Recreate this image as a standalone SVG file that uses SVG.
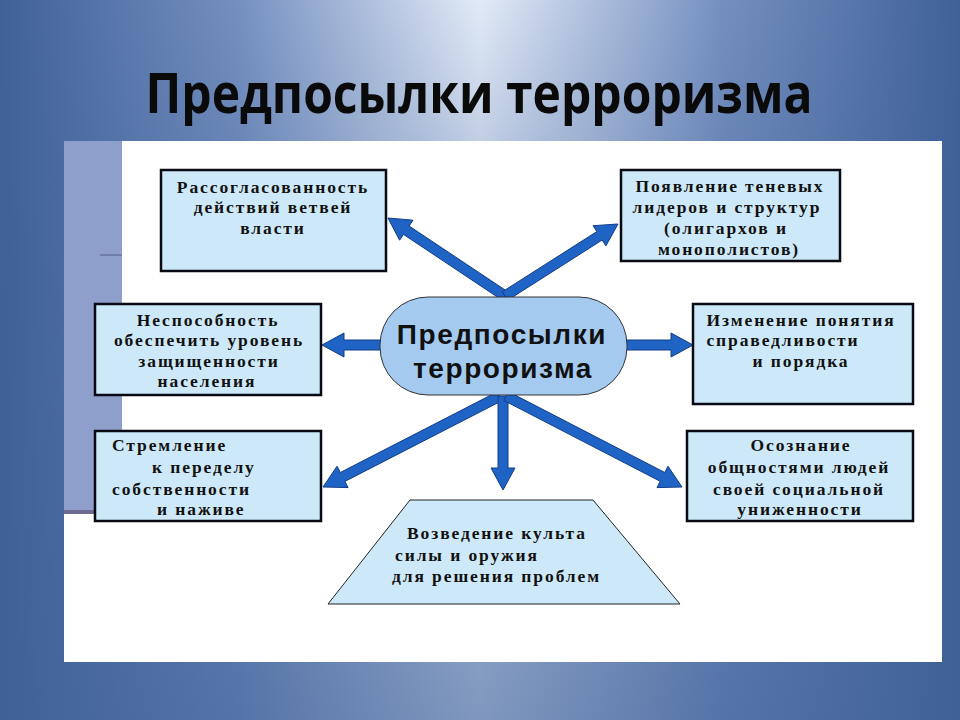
<svg xmlns="http://www.w3.org/2000/svg" width="960" height="720" viewBox="0 0 960 720">
<defs>
<linearGradient id="bgH" x1="0" y1="0" x2="1" y2="0">
<stop offset="0" stop-color="#3f6198"/>
<stop offset="0.25" stop-color="#7590c0"/>
<stop offset="0.5" stop-color="#e2eaf7"/>
<stop offset="0.75" stop-color="#7590c0"/>
<stop offset="1" stop-color="#3f6198"/>
</linearGradient>
<linearGradient id="bgV" x1="0" y1="0" x2="0" y2="1">
<stop offset="0" stop-color="#3f6198" stop-opacity="0"/>
<stop offset="0.2" stop-color="#3f6198" stop-opacity="0.2"/>
<stop offset="1" stop-color="#3f6198" stop-opacity="0.6"/>
</linearGradient>
<style>
.box{fill:#cde9f9;stroke:#0a0a14;stroke-width:2.5}
.t{font-family:"Liberation Serif","DejaVu Serif",serif;font-weight:bold;font-size:17.5px;letter-spacing:1.9px;fill:#111}
.c{text-anchor:middle}
.arr{fill:#1f63c4;stroke:#123e88;stroke-width:1;stroke-linejoin:miter}
.ctr{font-family:"Liberation Sans",Arial,sans-serif;font-weight:bold;font-size:28px;letter-spacing:1.6px;fill:#111;text-anchor:middle}
</style>
</defs>
<rect x="0" y="0" width="960" height="720" fill="url(#bgH)"/>
<rect x="0" y="0" width="960" height="720" fill="url(#bgV)"/>
<text x="479" y="113" font-family="'Open Sans','Noto Sans',sans-serif" font-weight="bold" font-size="55" text-anchor="middle" textLength="667" lengthAdjust="spacingAndGlyphs" fill="#0a0a0a">Предпосылки терроризма</text>
<rect x="64" y="141" width="878" height="521" fill="#ffffff"/>
<rect x="64" y="141" width="58" height="372" fill="#8f9fcc"/>
<rect x="64" y="510" width="58" height="4" fill="#6d6b92"/>
<line x1="100" y1="255" x2="122" y2="255" stroke="#555c88" stroke-width="1"/>

<g id="connectors">
<polygon class="arr" points="507.8,291.8 409.1,226.0 413.0,220.2 388,218 399.6,240.2 403.5,234.4 502.2,300.2"/>
<polygon class="arr" points="507.7,300.2 602.2,240.0 605.9,245.9 618,224 593.1,225.7 596.8,231.6 502.3,291.8"/>
<polygon class="arr" points="385,340 344,340 344,333 322,345 344,357 344,350 385,350"/>
<polygon class="arr" points="622,340 671,340 671,333 693,345 671,357 671,350 622,350"/>
<polygon class="arr" points="497.7,391.6 340.3,472.5 337.1,466.2 323,487 348.1,487.6 344.9,481.4 502.3,400.5"/>
<polygon class="arr" points="508,396 508,468 515,468 503,490 491,468 498,468 498,396"/>
<polygon class="arr" points="503.7,400.4 660.2,481.3 657.0,487.6 682,487 668.0,466.2 664.8,472.5 508.3,391.6"/>
</g>

<g id="center">
<rect x="380" y="297" width="247" height="98" rx="48" ry="48" fill="#a4caf0" stroke="#333" stroke-width="1"/>
<text class="ctr" x="502" y="344">Предпосылки</text>
<text class="ctr" x="503" y="378">терроризма</text>
</g>

<g id="n1">
<rect class="box" x="161" y="170" width="225" height="101"/>
<text class="t c" x="273" y="193">Рассогласованность</text>
<text class="t c" x="273" y="213">действий ветвей</text>
<text class="t c" x="273" y="234">власти</text>
</g>

<g id="n2">
<rect class="box" x="621" y="170" width="219" height="91"/>
<text class="t c" x="730" y="192">Появление теневых</text>
<text class="t c" x="727" y="213">лидеров и структур</text>
<text class="t c" x="726" y="234">(олигархов и</text>
<text class="t c" x="729" y="255">монополистов)</text>
</g>

<g id="n3">
<rect class="box" x="95" y="304" width="226" height="91"/>
<text class="t c" x="208" y="326">Неспособность</text>
<text class="t c" x="209" y="346">обеспечить уровень</text>
<text class="t c" x="209" y="367">защищенности</text>
<text class="t c" x="207" y="387">населения</text>
</g>

<g id="n4">
<rect class="box" x="693" y="304" width="220" height="100"/>
<text class="t c" x="801" y="326">Изменение понятия</text>
<text class="t c" x="783" y="346">справедливости</text>
<text class="t c" x="801" y="367">и порядка</text>
</g>

<g id="n5">
<rect class="box" x="95" y="431" width="226" height="90"/>
<text class="t" x="112" y="451">Стремление</text>
<text class="t" x="152" y="473">к переделу</text>
<text class="t" x="112" y="495">собственности</text>
<text class="t" x="157" y="515">и наживе</text>
</g>

<g id="n6">
<rect class="box" x="687" y="431" width="226" height="90"/>
<text class="t c" x="801" y="451">Осознание</text>
<text class="t c" x="799" y="473">общностями людей</text>
<text class="t c" x="799" y="495">своей социальной</text>
<text class="t c" x="800" y="515">униженности</text>
</g>

<g id="n7">
<polygon points="410,500 593,500 680,604 328,604" fill="#cde9f9" stroke="#222" stroke-width="1"/>
<text class="t" x="407" y="539">Возведение культа</text>
<text class="t" x="395" y="561">силы и оружия</text>
<text class="t" x="392" y="582">для решения проблем</text>
</g>
</svg>
